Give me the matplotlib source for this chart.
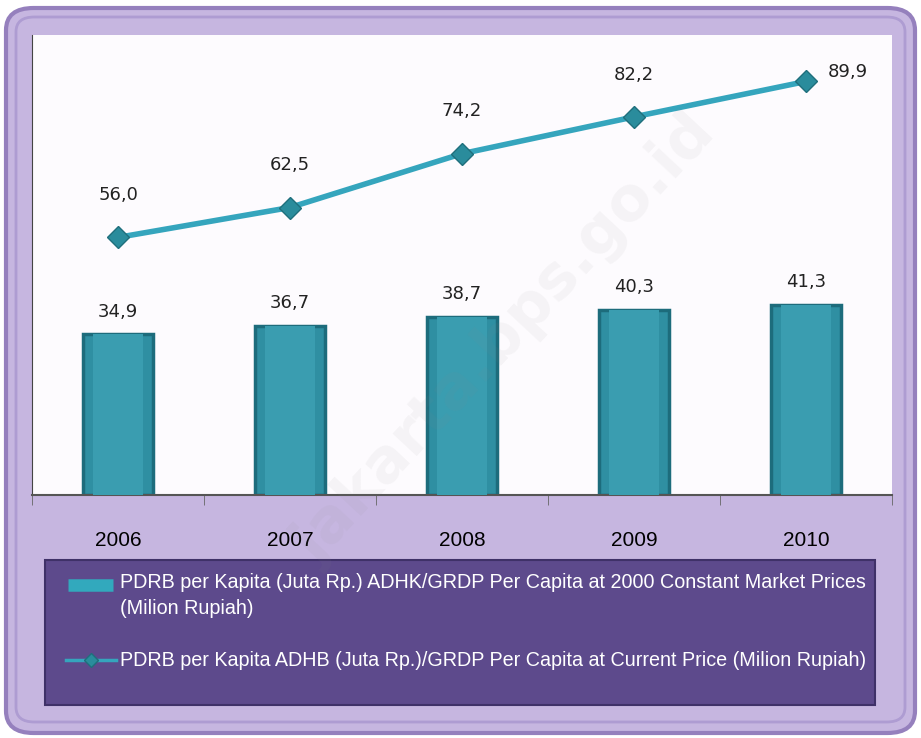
import matplotlib
matplotlib.use("Agg")
import matplotlib.pyplot as plt
from matplotlib.patches import FancyBboxPatch
from matplotlib.lines import Line2D
import numpy as np

years = ["2006", "2007", "2008", "2009", "2010"]
adhk = [34.9, 36.7, 38.7, 40.3, 41.3]   # bars, constant prices
adhb = [56.0, 62.5, 74.2, 82.2, 89.9]   # line, current prices

legend_labels = [
    "PDRB per Kapita (Juta Rp.) ADHK/GRDP Per Capita at 2000 Constant Market Prices\n(Milion Rupiah)",
    "PDRB per Kapita ADHB (Juta Rp.)/GRDP Per Capita at Current Price (Milion Rupiah)",
]

SANS = ["Liberation Sans", "DejaVu Sans"]

W, H = 921, 738
fig = plt.figure(figsize=(W / 100, H / 100), dpi=100)
fig.patch.set_facecolor("white")

def fx(px):
    return px / W

def fy(py):
    return 1 - py / H

# outer lavender frame
frame = FancyBboxPatch((fx(6), fy(733)), fx(909), 725 / H,
                       boxstyle="round,pad=0,rounding_size=0.03",
                       transform=fig.transFigure, facecolor="#c6b6e0",
                       edgecolor="#9580bd", linewidth=3, zorder=0)
fig.add_artist(frame)
inner = FancyBboxPatch((fx(16), fy(722)), fx(889), 705 / H,
                       boxstyle="round,pad=0,rounding_size=0.02",
                       transform=fig.transFigure, facecolor="none",
                       edgecolor="#ae9cd2", linewidth=2, zorder=0)
fig.add_artist(inner)

# plot area
ax = fig.add_axes([fx(32), fy(495), fx(860), 460 / H])
ax.set_facecolor("#fdfbfe")
x = np.arange(len(years))
ax.set_xlim(-0.5, len(years) - 0.5)
ax.set_ylim(0, 100)

ax.bar(x, adhk, width=0.41, color="#2f8fa2", edgecolor="#1d6c7c",
       linewidth=2.5, zorder=2)
ax.bar(x, adhk, width=0.29, color="#3a9db0", edgecolor="none", zorder=3)
for xi, v in zip(x, adhk):
    ax.annotate(f"{v:.1f}".replace(".", ","), (xi, v), xytext=(0, 10),
                textcoords="offset points", ha="center", va="bottom",
                fontsize=13, color="#222222")

ax.plot(x, adhb, color="#35a5bd", linewidth=4, marker="D", markersize=11,
        markerfacecolor="#2a8c9c", markeredgecolor="#1f6f7c",
        markeredgewidth=1, zorder=4)
for i, (xi, v) in enumerate(zip(x, adhb)):
    if i == len(adhb) - 1:
        off, ha = (16, 0), "left"
    else:
        off, ha = (0, 24), "center"
    ax.annotate(f"{v:.1f}".replace(".", ","), (xi, v), xytext=off,
                textcoords="offset points", ha=ha, va="bottom",
                fontsize=13, color="#222222")

ax.set_xticks(x)
ax.set_xticklabels(years, fontsize=15, family=SANS)
ax.set_xticks(np.arange(-0.5, len(years)), minor=True)
ax.tick_params(axis="x", which="major", length=0, pad=26)
ax.tick_params(axis="x", which="minor", length=7, color="#666666", direction="out")
ax.set_yticks([])
for s in ["top", "right"]:
    ax.spines[s].set_visible(False)
ax.spines["left"].set_color("#444444")
ax.spines["bottom"].set_color("#555555")
ax.spines["bottom"].set_linewidth(1.5)

# legend box
lg = FancyBboxPatch((fx(45), fy(705)), fx(830), 145 / H,
                    boxstyle="square,pad=0", transform=fig.transFigure,
                    facecolor="#5d4a8c", edgecolor="#3f3168", linewidth=1.5,
                    zorder=1)
fig.add_artist(lg)
fig.add_artist(Line2D([fx(68), fx(113)], [fy(585), fy(585)], color="#32a9bd",
                      linewidth=9, solid_capstyle="butt", transform=fig.transFigure, zorder=2))
fig.add_artist(Line2D([fx(66), fx(116)], [fy(660), fy(660)], color="#35a5bd",
                      linewidth=2.5, transform=fig.transFigure, zorder=2))
fig.add_artist(Line2D([fx(91)], [fy(660)], color="#35a5bd", linestyle="none",
                      marker="D", markersize=7, markerfacecolor="#2a8c9c",
                      markeredgecolor="#1f6f7c", transform=fig.transFigure, zorder=3))
fig.text(fx(120), fy(573), legend_labels[0], color="white", fontsize=14.2,
         family=SANS, va="top", ha="left", linespacing=1.45, zorder=3)
fig.text(fx(120), fy(660), legend_labels[1], color="white", fontsize=14.2,
         family=SANS, va="center", ha="left", zorder=3)

# watermark
fig.text(fx(505), fy(340), "jakarta.bps.go.id", fontsize=44, fontweight="bold",
         color="#8a8a8a", alpha=0.07, rotation=47, ha="center", va="center",
         family="DejaVu Sans", zorder=5)

fig.savefig("out.png", dpi=100, facecolor=fig.get_facecolor())
